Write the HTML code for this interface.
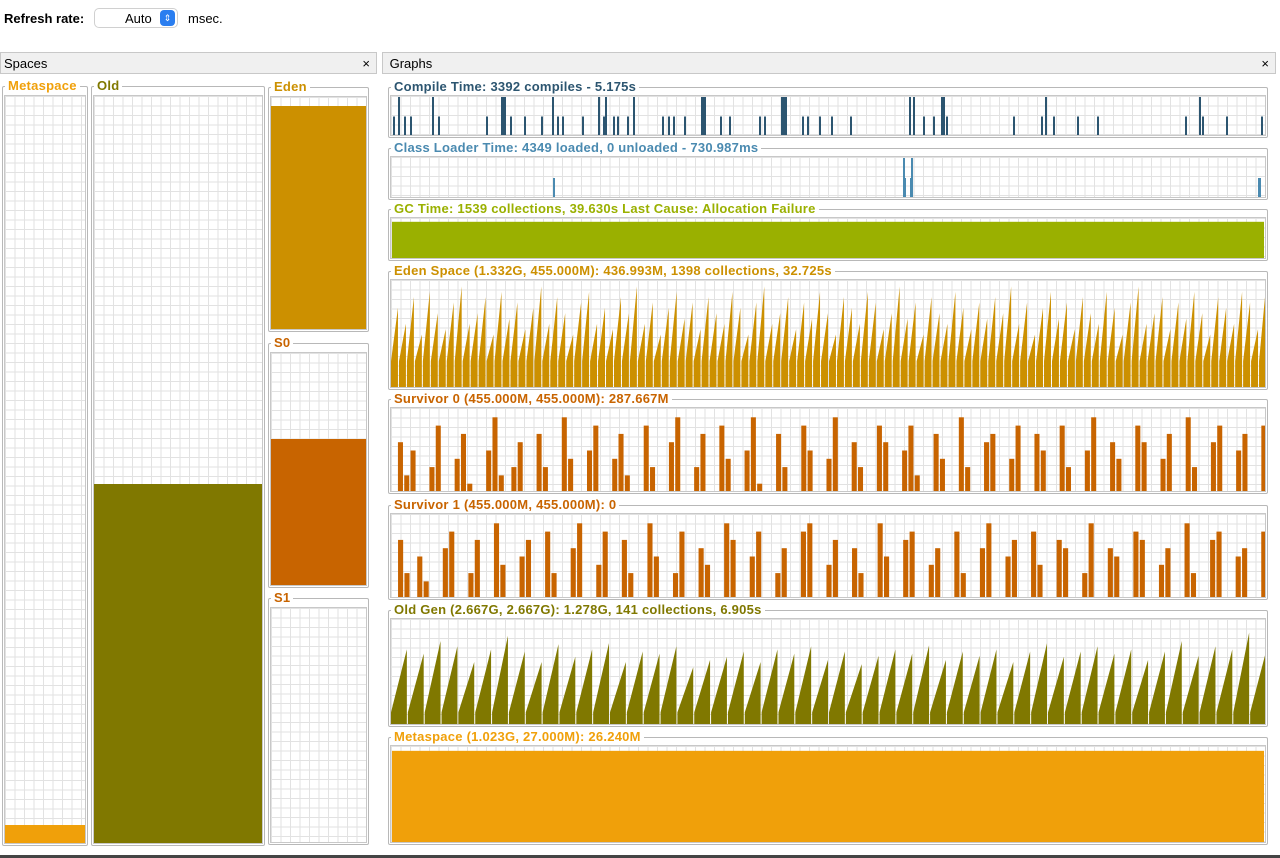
<!DOCTYPE html>
<html><head><meta charset="utf-8"><style>
body{margin:0;width:1280px;height:858px;background:#fff;font-family:"Liberation Sans",sans-serif;position:relative;overflow:hidden}
.abs{position:absolute}
.grid{background-color:#fff;background-image:linear-gradient(to right,#e2e2e2 1px,transparent 1px),linear-gradient(#e2e2e2 1px,transparent 1px);background-size:9.5px 9.5px;border:1px solid #c8c8c8;box-sizing:border-box;overflow:hidden}
.grp{border:1px solid #b8b8b8;border-radius:2px;box-sizing:border-box}
.lbl{position:absolute;font-size:13px;font-weight:bold;background:#fff;padding:0 3px;line-height:14px;white-space:nowrap;letter-spacing:0.25px}
.hdr{background:#f0f0f0;border:1px solid #c8c8c8;box-sizing:border-box;font-size:13px;padding:3px 3px}
svg{position:absolute;left:0;top:0}
</style></head><body>
<div class="abs" style="left:4px;top:11px;font-size:13px;font-weight:bold">Refresh rate:</div>
<div class="abs" style="left:94px;top:8px;width:84px;height:20px;border:1px solid #d0d0d0;border-radius:5px;box-sizing:border-box;font-size:13px"><span style="position:absolute;left:30px;top:2px">Auto</span><span style="position:absolute;right:2px;top:1px;width:15px;height:16px;background:#2a7ef0;border-radius:4px;color:#fff;font-size:9px;text-align:center;line-height:16px">⇕</span></div>
<div class="abs" style="left:188px;top:11px;font-size:13px">msec.</div>

<div class="abs hdr" style="left:0;top:52px;width:377px;height:22px">Spaces<span style="position:absolute;right:6px;top:3px">×</span></div>
<div class="abs hdr" style="left:382px;top:52px;width:894px;height:22px">&nbsp;Graphs<span style="position:absolute;right:6px;top:3px">×</span></div>
<div class="abs" style="left:0;top:855px;width:1280px;height:3px;background:#444"></div>

<div id="root"></div>
<script>
const spaceNames=["Metaspace","Old","Eden","S0","S1"];
const spaceColors=["#f0a00a","#807800","#cc9000","#c86400","#c86400"];
const spaceFill=[0.024,0.48,0.96,0.63,0];
const spaceBoxes=[[2,86,86,760],[91,86,174,760],[268,87,101,245],[268,343,101,245],[268,598,101,247]];
const compileT=[2,7,13,19,41,47,95,110,111,112,113,119,133,150,161,166,171,191,207,212,214,222,226,236,242,271,277,282,293,310,311,312,313,329,338,368,373,390,391,392,394,411,416,428,440,459,518,522,532,542,550,551,552,555,622,650,654,662,686,706,794,808,811,835,870];
const compileH=[0.5,1,0.5,0.5,1,0.5,0.5,1,1,1,1,0.5,0.5,0.5,1,0.5,0.5,0.5,1,0.5,1,0.5,0.5,0.5,1,0.5,0.5,0.5,0.5,1,1,1,1,0.5,0.5,0.5,0.5,1,1,1,1,0.5,0.5,0.5,0.5,0.5,1,1,0.5,0.5,1,1,1,0.5,0.5,0.5,1,0.5,0.5,0.5,0.5,1,0.5,0.5,0.5];
const classT=[162,512,513,519,520,867,868];
const classH=[0.5,1,0.5,0.5,1,0.5,0.5];
const gcValue=[0.93];
const edenPeaks=[0.75,0.6,0.85,0.5,0.9,0.7,0.55,0.8,0.95,0.6,0.7,0.85,0.5,0.9,0.65,0.8,0.55,0.75,0.95,0.6,0.85,0.7,0.5,0.8,0.9,0.6,0.75,0.55,0.85,0.7,0.95,0.6,0.8,0.5,0.75,0.9,0.65,0.8,0.55,0.85,0.7,0.6,0.9,0.75,0.5,0.8,0.95,0.6,0.7,0.85,0.55,0.8,0.65,0.9,0.7,0.5,0.85,0.75,0.6,0.9,0.8,0.55,0.7,0.95,0.65,0.8,0.5,0.85,0.7,0.6,0.9,0.75,0.55,0.8,0.65,0.85,0.7,0.95,0.6,0.8,0.5,0.75,0.9,0.65,0.8,0.55,0.85,0.7,0.6,0.9,0.75,0.5,0.8,0.95,0.6,0.7,0.85,0.55,0.8,0.65,0.9,0.7,0.5,0.85,0.75,0.6,0.9,0.8,0.55,0.95];
const s0Vals=[0,0.6,0.2,0.5,0,0,0.3,0.8,0,0,0.4,0.7,0.1,0,0,0.5,0.9,0.2,0,0.3,0.6,0,0,0.7,0.3,0,0,0.9,0.4,0,0,0.5,0.8,0,0,0.4,0.7,0.2,0,0,0.8,0.3,0,0,0.6,0.9,0,0,0.3,0.7,0,0,0.8,0.4,0,0,0.5,0.9,0.1,0,0,0.7,0.3,0,0,0.8,0.5,0,0,0.4,0.9,0,0,0.6,0.3,0,0,0.8,0.6,0,0,0.5,0.8,0.2,0,0,0.7,0.4,0,0,0.9,0.3,0,0,0.6,0.7,0,0,0.4,0.8,0,0,0.7,0.5,0,0,0.8,0.3,0,0,0.5,0.9,0,0,0.6,0.4,0,0,0.8,0.6,0,0,0.4,0.7,0,0,0.9,0.3,0,0,0.6,0.8,0,0,0.5,0.7,0,0,0.8];
const s1Vals=[0,0.7,0.3,0,0.5,0.2,0,0,0.6,0.8,0,0,0.3,0.7,0,0,0.9,0.4,0,0,0.5,0.7,0,0,0.8,0.3,0,0,0.6,0.9,0,0,0.4,0.8,0,0,0.7,0.3,0,0,0.9,0.5,0,0,0.3,0.8,0,0,0.6,0.4,0,0,0.9,0.7,0,0,0.5,0.8,0,0,0.3,0.6,0,0,0.8,0.9,0,0,0.4,0.7,0,0,0.6,0.3,0,0,0.9,0.5,0,0,0.7,0.8,0,0,0.4,0.6,0,0,0.8,0.3,0,0,0.6,0.9,0,0,0.5,0.7,0,0,0.8,0.4,0,0,0.7,0.6,0,0,0.3,0.9,0,0,0.6,0.5,0,0,0.8,0.7,0,0,0.4,0.6,0,0,0.9,0.3,0,0,0.7,0.8,0,0,0.5,0.6,0,0,0.8];
const oldPeaks=[0.72,0.68,0.8,0.75,0.6,0.72,0.85,0.7,0.6,0.77,0.65,0.72,0.78,0.6,0.7,0.68,0.75,0.55,0.62,0.65,0.7,0.6,0.72,0.68,0.75,0.62,0.7,0.58,0.66,0.72,0.68,0.76,0.62,0.7,0.66,0.72,0.6,0.7,0.78,0.65,0.7,0.75,0.68,0.72,0.62,0.7,0.8,0.66,0.75,0.72,0.88,0.7];
const metaValue=[0.96];

const root=document.getElementById('root');
const NS="http://www.w3.org/2000/svg";
function mk(tag,parent,style){const e=document.createElement(tag);if(style)e.style.cssText=style;parent.appendChild(e);return e;}

spaceBoxes.forEach((b,i)=>{
  const g=mk('div',root,`position:absolute;left:${b[0]}px;top:${b[1]}px;width:${b[2]}px;height:${b[3]}px`);
  g.className='grp';
  
  
  const l=mk('div',root,`left:${b[0]+3}px;top:${b[1]-7}px;color:${spaceColors[i]}`);
  l.className='lbl';l.textContent=spaceNames[i];
  
  
  const gr=mk('div',root,`position:absolute;left:${b[0]+2}px;top:${b[1]+9}px;width:${b[2]-4}px;height:${b[3]-11}px`);
  gr.className='grid';
  
  
  const ih=b[3]-13;
  const f=mk('div',gr,`position:absolute;left:0;right:0;bottom:0;height:${ih*spaceFill[i]}px;background:${spaceColors[i]}`);
  
  
});

const graphs=[
 {name:'compile-time',label:'Compile Time: 3392 compiles - 5.175s',color:'#2c5570',lc:'#2c5570',y:87,h:50,type:'events',t:compileT,v:compileH},
 {name:'class-loader-time',label:'Class Loader Time: 4349 loaded, 0 unloaded - 730.987ms',color:'#4a8ab0',lc:'#4a8ab0',y:148,h:51,type:'events',t:classT,v:classH},
 {name:'gc-time',label:'GC Time: 1539 collections, 39.630s  Last Cause: Allocation Failure',color:'#9ab000',lc:'#9ab000',y:209,h:51,type:'full',v:gcValue},
 {name:'eden-space',label:'Eden Space (1.332G, 455.000M): 436.993M, 1398 collections, 32.725s',color:'#cc9000',lc:'#cc9000',y:271,h:118,type:'saw',v:edenPeaks,base:0.25},
 {name:'survivor-0',label:'Survivor 0 (455.000M, 455.000M): 287.667M',color:'#c86400',lc:'#c86400',y:399,h:94,type:'bars',v:s0Vals},
 {name:'survivor-1',label:'Survivor 1 (455.000M, 455.000M): 0',color:'#c86400',lc:'#c86400',y:505,h:94,type:'bars',v:s1Vals},
 {name:'old-gen',label:'Old Gen (2.667G, 2.667G): 1.278G, 141 collections, 6.905s',color:'#807800',lc:'#807800',y:610,h:116,type:'saw',v:oldPeaks,base:0.12},
 {name:'metaspace',label:'Metaspace (1.023G, 27.000M): 26.240M',color:'#f0a00a',lc:'#f0a00a',y:737,h:107,type:'full',v:metaValue}
];
const GX=388,GW=880,CW=876;
graphs.forEach(G=>{
  const g=mk('div',root,`position:absolute;left:${GX}px;top:${G.y}px;width:${GW}px;height:${G.h+1}px`);
  g.className='grp';
  
  
  const l=mk('div',root,`left:${GX+3}px;top:${G.y-7}px;color:${G.lc}`);
  l.className='lbl';l.textContent=G.label;
  
  
  const ch=G.h-9;
  const gr=mk('div',root,`position:absolute;left:${GX+2}px;top:${G.y+8}px;width:${CW}px;height:${ch}px`);
  gr.className='grid';
  
  
  const svg=document.createElementNS(NS,'svg');
  svg.setAttribute('width',CW);svg.setAttribute('height',ch);
  gr.appendChild(svg);
  const H=ch-2;
  const yv=v=>1+H*(1-v);
  function rect(x,y,w,h,name){const r=document.createElementNS(NS,'rect');r.setAttribute('x',x);r.setAttribute('y',y);r.setAttribute('width',Math.max(w,0.5));r.setAttribute('height',Math.max(h,0));r.setAttribute('fill',G.color);
    
    
    svg.appendChild(r);}
  if(G.type==='events'){
    G.t.forEach((t,i)=>{rect(t,yv(G.v[i]),2,H*G.v[i],G.name+'-event');});
  } else if(G.type==='full'){
    rect(1,yv(G.v[0]),CW-4,H*G.v[0],G.name+'-area');
  } else if(G.type==='bars'){
    const w=CW/G.v.length;
    G.v.forEach((v,i)=>{if(v>0)rect(i*w+w*0.1,yv(v),w*0.8,H*v,G.name+'-bar');});
  } else if(G.type==='saw'){
    const w=CW/G.v.length;
    let d='';
    G.v.forEach((v,i)=>{const x0=i*w,x1=(i+1)*w;d+=`M${x0},${1+H} L${x0},${yv(G.base)} L${x1-1},${yv(v)} L${x1-1},${1+H} Z `;});
    const p=document.createElementNS(NS,'path');p.setAttribute('d',d);p.setAttribute('fill',G.color);
    
    
    svg.appendChild(p);
  }
});
</script>
</body></html>
